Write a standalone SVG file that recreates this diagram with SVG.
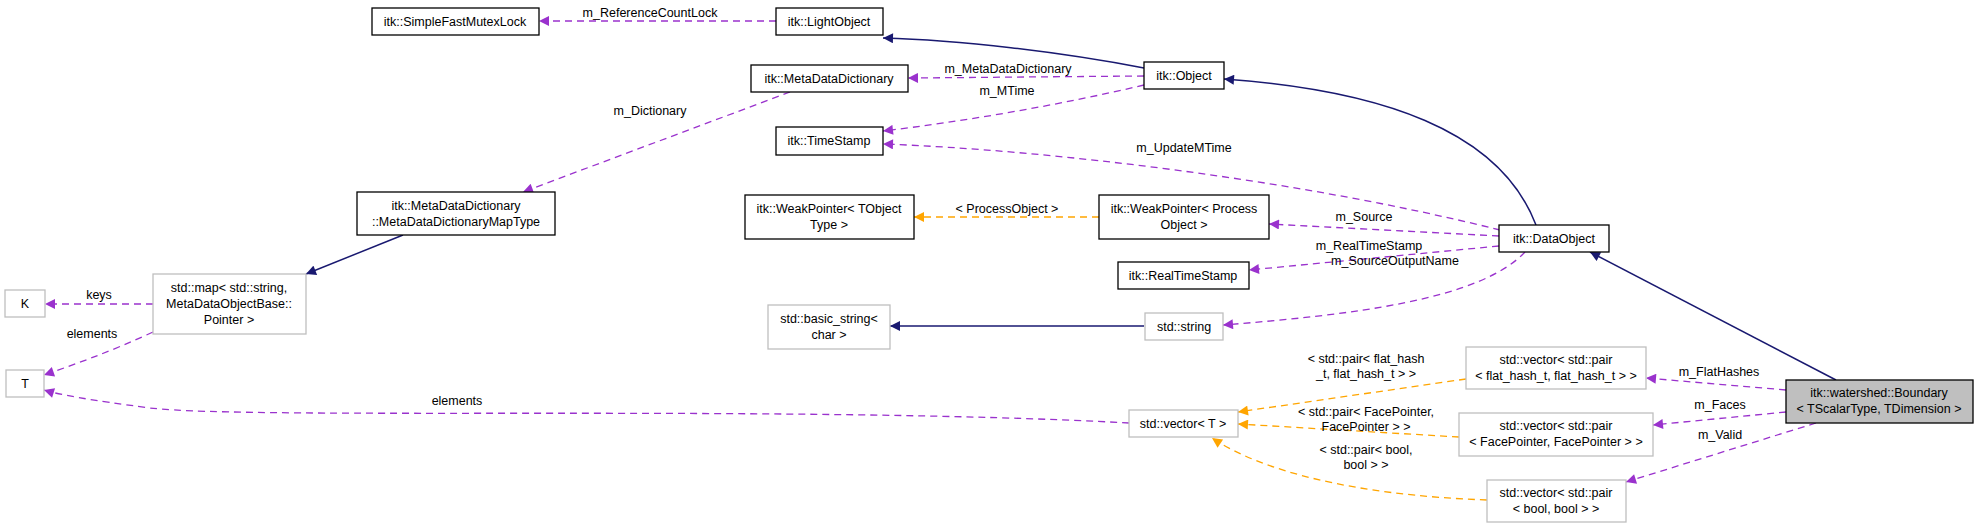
<svg xmlns="http://www.w3.org/2000/svg" width="1979" height="528" viewBox="0 0 1979 528">
<style>
text{font-family:"Liberation Sans",Arial,sans-serif;font-size:12.5px;fill:#000;text-anchor:middle}
.n{fill:#fff;stroke:#000;stroke-width:1.3}
.g{fill:#fff;stroke:#bfbfbf;stroke-width:1.3}
.cur{fill:#bfbfbf;stroke:#000;stroke-width:1.3}
.p{fill:none;stroke:#9a32cd;stroke-width:1.3;stroke-dasharray:7,5}
.o{fill:none;stroke:#ffa500;stroke-width:1.3;stroke-dasharray:7,5}
.b{fill:none;stroke:#191970;stroke-width:1.5}
</style>
<defs>
<marker id="ap" viewBox="0 0 10 10" refX="10" refY="5" markerWidth="12" markerHeight="10" markerUnits="userSpaceOnUse" orient="auto"><path d="M0,0L10,5L0,10z" fill="#9a32cd"/></marker>
<marker id="ao" viewBox="0 0 10 10" refX="10" refY="5" markerWidth="12" markerHeight="10" markerUnits="userSpaceOnUse" orient="auto"><path d="M0,0L10,5L0,10z" fill="#ffa500"/></marker>
<marker id="ab" viewBox="0 0 10 10" refX="10" refY="5" markerWidth="12" markerHeight="10" markerUnits="userSpaceOnUse" orient="auto"><path d="M0,0L10,5L0,10z" fill="#191970"/></marker>
</defs>
<g id="edges">
<path class="p" d="M776,21L539,21" marker-end="url(#ap)"/><text x="650" y="17">m_ReferenceCountLock</text>
<path class="b" d="M1144,68C1060,52 960,40 883,38" marker-end="url(#ab)"/>
<path class="p" d="M1144,76L908,78" marker-end="url(#ap)"/><text x="1008" y="73">m_MetaDataDictionary</text>
<path class="p" d="M1144,85C1060,105 960,122 883,131" marker-end="url(#ap)"/><text x="1007" y="95">m_MTime</text>
<path class="p" d="M790,92L523,192" marker-end="url(#ap)"/><text x="650" y="115">m_Dictionary</text>
<path class="b" d="M1536,225C1500,130 1380,90 1224,79" marker-end="url(#ab)"/>
<path class="p" d="M1500,230C1300,180 1050,150 883,144" marker-end="url(#ap)"/><text x="1184" y="152">m_UpdateMTime</text>
<path class="p" d="M1499,236L1269,224" marker-end="url(#ap)"/><text x="1364" y="221">m_Source</text>
<path class="o" d="M1099,217L914,217" marker-end="url(#ao)"/><text x="1007" y="213">&lt; ProcessObject &gt;</text>
<path class="p" d="M1499,246L1249,270" marker-end="url(#ap)"/><text x="1369" y="250">m_RealTimeStamp</text>
<path class="p" d="M1525,252C1480,300 1350,315 1223,325" marker-end="url(#ap)"/><text x="1395" y="265">m_SourceOutputName</text>
<path class="b" d="M1144,326L890,326" marker-end="url(#ab)"/>
<path class="b" d="M403,235L306,274" marker-end="url(#ab)"/>
<path class="p" d="M153,304L45,304" marker-end="url(#ap)"/><text x="99" y="299">keys</text>
<path class="p" d="M153,332C110,352 70,366 44,375" marker-end="url(#ap)"/><text x="92" y="338">elements</text>
<path class="p" d="M1129,423C800,405 250,420 150,408C90,400 60,395 44,390" marker-end="url(#ap)"/><text x="457" y="405">elements</text>
<path class="b" d="M1836,380L1590,252" marker-end="url(#ab)"/>
<path class="p" d="M1786,390L1646,378" marker-end="url(#ap)"/><text x="1719" y="376">m_FlatHashes</text>
<path class="p" d="M1786,412L1653,425" marker-end="url(#ap)"/><text x="1720" y="409">m_Faces</text>
<path class="p" d="M1816,423L1626,482" marker-end="url(#ap)"/><text x="1720" y="439">m_Valid</text>
<path class="o" d="M1466,379L1238,412" marker-end="url(#ao)"/><text x="1366" y="363">&lt; std::pair&lt; flat_hash</text><text x="1366" y="378">_t, flat_hash_t &gt; &gt;</text>
<path class="o" d="M1459,437L1238,424" marker-end="url(#ao)"/><text x="1366" y="416">&lt; std::pair&lt; FacePointer,</text><text x="1366" y="431">FacePointer &gt; &gt;</text>
<path class="o" d="M1487,500C1350,495 1260,470 1212,438" marker-end="url(#ao)"/><text x="1366" y="454">&lt; std::pair&lt; bool,</text><text x="1366" y="469">bool &gt; &gt;</text>
</g>
<g id="sfml"><rect class="n" x="372" y="8" width="167" height="27"/><text x="455" y="26">itk::SimpleFastMutexLock</text></g>
<g id="lightobject"><rect class="n" x="776" y="8" width="107" height="27"/><text x="829" y="26">itk::LightObject</text></g>
<g id="mdd"><rect class="n" x="751" y="65" width="157" height="27"/><text x="829" y="83">itk::MetaDataDictionary</text></g>
<g id="object"><rect class="n" x="1144" y="62" width="80" height="27"/><text x="1184" y="80">itk::Object</text></g>
<g id="timestamp"><rect class="n" x="776" y="127" width="107" height="28"/><text x="829" y="145">itk::TimeStamp</text></g>
<g id="maptype"><rect class="n" x="357" y="192" width="198" height="43"/><text x="456" y="210">itk::MetaDataDictionary</text><text x="456" y="226">::MetaDataDictionaryMapType</text></g>
<g id="wpt"><rect class="n" x="745" y="195" width="169" height="44"/><text x="829" y="213">itk::WeakPointer&lt; TObject</text><text x="829" y="229">Type &gt;</text></g>
<g id="wpp"><rect class="n" x="1099" y="195" width="170" height="44"/><text x="1184" y="213">itk::WeakPointer&lt; Process</text><text x="1184" y="229">Object &gt;</text></g>
<g id="dataobject"><rect class="n" x="1499" y="225" width="110" height="27"/><text x="1554" y="243">itk::DataObject</text></g>
<g id="rts"><rect class="n" x="1118" y="262" width="131" height="27"/><text x="1183" y="280">itk::RealTimeStamp</text></g>
<g id="K"><rect class="g" x="5" y="290" width="40" height="27"/><text x="25" y="308">K</text></g>
<g id="T"><rect class="g" x="6" y="370" width="38" height="27"/><text x="25" y="388">T</text></g>
<g id="stdmap"><rect class="g" x="153" y="274" width="153" height="60"/><text x="229" y="292">std::map&lt; std::string,</text><text x="229" y="308">MetaDataObjectBase::</text><text x="229" y="324">Pointer &gt;</text></g>
<g id="basicstring"><rect class="g" x="768" y="305" width="122" height="44"/><text x="829" y="323">std::basic_string&lt;</text><text x="829" y="339">char &gt;</text></g>
<g id="stdstring"><rect class="g" x="1145" y="313" width="78" height="27"/><text x="1184" y="331">std::string</text></g>
<g id="vecflat"><rect class="g" x="1466" y="347" width="180" height="42"/><text x="1556" y="364">std::vector&lt; std::pair</text><text x="1556" y="380">&lt; flat_hash_t, flat_hash_t &gt; &gt;</text></g>
<g id="vecT"><rect class="g" x="1129" y="410" width="109" height="27"/><text x="1183" y="428">std::vector&lt; T &gt;</text></g>
<g id="vecface"><rect class="g" x="1459" y="413" width="194" height="43"/><text x="1556" y="430">std::vector&lt; std::pair</text><text x="1556" y="446">&lt; FacePointer, FacePointer &gt; &gt;</text></g>
<g id="vecbool"><rect class="g" x="1487" y="480" width="139" height="42"/><text x="1556" y="497">std::vector&lt; std::pair</text><text x="1556" y="513">&lt; bool, bool &gt; &gt;</text></g>
<g id="boundary"><rect class="cur" x="1786" y="380" width="187" height="43"/><text x="1879" y="397">itk::watershed::Boundary</text><text x="1879" y="413">&lt; TScalarType, TDimension &gt;</text></g>
</svg>
